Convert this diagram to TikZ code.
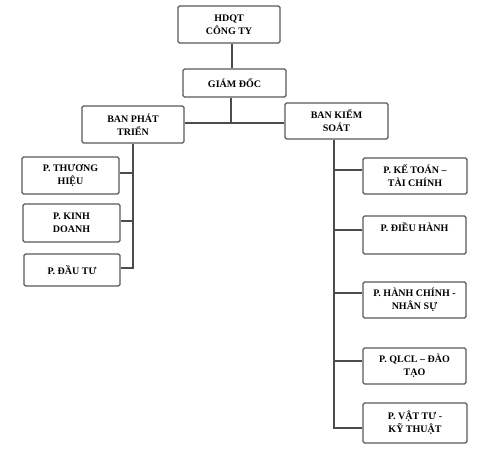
\documentclass[tikz,border=0pt]{standalone}
\usepackage{fontspec}
\setmainfont{Liberation Serif}
\begin{document}
\begin{tikzpicture}[x=1pt,y=1pt,
  box/.style={draw=black!65, line width=1.1pt, rounded corners=1.5pt, fill=white,
    inner sep=0pt, align=center, font=\fontsize{10}{13}\selectfont\bfseries},
  link/.style={draw=black!70, line width=1.2pt}]
\useasboundingbox (0,0) rectangle (480,459);
\node[box, minimum width=102pt, minimum height=37pt] (hdqt) at (229,434.5) {HDQT\\CÔNG TY};
\node[box, minimum width=103pt, minimum height=28pt] (gd) at (234.5,376) {GIÁM ĐỐC};
\node[box, minimum width=102pt, minimum height=37pt] (bpt) at (133,334.5) {BAN PHÁT\\TRIỂN};
\node[box, minimum width=103pt, minimum height=36pt] (bks) at (336.5,338) {BAN KIỂM\\SOÁT};
\node[box, minimum width=97pt, minimum height=37pt] (th) at (70.5,283.5) {P. THƯƠNG\\HIỆU};
\node[box, minimum width=97pt, minimum height=38pt] (kd) at (71.5,236) {P. KINH\\DOANH};
\node[box, minimum width=96pt, minimum height=32pt] (dt) at (72,189) {P. ĐẦU TƯ};
\node[box, minimum width=104pt, minimum height=36pt] (kt) at (415,283) {P. KẾ TOÁN –\\TÀI CHÍNH};
\node[box, minimum width=103pt, minimum height=38pt] (dh) at (414.5,224) {P. ĐIỀU HÀNH\\\strut};
\node[box, minimum width=103pt, minimum height=36pt] (hc) at (414.5,159) {P. HÀNH CHÍNH -\\NHÂN SỰ};
\node[box, minimum width=103pt, minimum height=36pt] (ql) at (414.5,93) {P. QLCL – ĐÀO\\TẠO};
\node[box, minimum width=104pt, minimum height=40pt] (vt) at (415,36) {P. VẬT TƯ -\\KỸ THUẬT};
\coordinate (top) at (232,400);
\coordinate (j) at (231,336);
\coordinate (r) at (334,320);
% connectors
\draw[link] (hdqt.south -| top) -- (gd.north -| top);
\draw[link] (gd.south -| j) -- (j);
\draw[link] (bpt.east |- j) -- (bks.west |- j);
\draw[link] (bpt.south) |- ([yshift=2.5pt]th.east);
\draw[link] (bpt.south) |- ([yshift=2pt]kd.east);
\draw[link] (bpt.south) |- ([yshift=2pt]dt.east);
\draw[link] (bks.south -| r) |- ([yshift=6pt]kt.west);
\draw[link] (bks.south -| r) |- ([yshift=5pt]dh.west);
\draw[link] (bks.south -| r) |- ([yshift=7pt]hc.west);
\draw[link] (bks.south -| r) |- ([yshift=5pt]ql.west);
\draw[link] (bks.south -| r) |- ([yshift=-5pt]vt.west);
\end{tikzpicture}
\end{document}
